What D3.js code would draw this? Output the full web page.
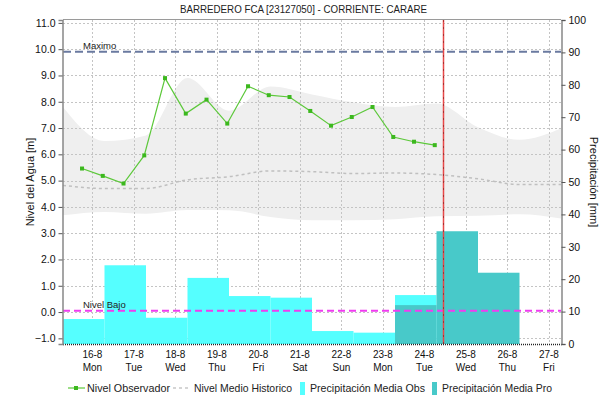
<!DOCTYPE html>
<html>
<head>
<meta charset="utf-8">
<script src="https://cdn.jsdelivr.net/npm/d3@7"></script>
<style>
  html, body { margin: 0; padding: 0; background: #fff; }
  svg { display: block; font-family: "Liberation Sans", Arial, sans-serif; }
</style>
</head>
<body>
<svg id="chart" width="603" height="412"></svg>
<script>
// ---- data -------------------------------------------------------------
const title = "BARREDERO FCA [23127050] - CORRIENTE: CARARE";

// observed water level, readings at 06:00 and 18:00 (day of August, hour, metres)
const levelDays  = [15, 16, 16, 17, 17, 18, 18, 19, 19, 20, 20, 21, 21, 22, 22, 23, 23, 24];
const levelHours = [18, 6, 18, 6, 18, 6, 18, 6, 18, 6, 18, 6, 18, 6, 18, 6, 18, 6];
const levelValues = [5.46, 5.18, 4.89, 5.96, 8.90, 7.55, 8.08, 7.17, 8.59, 8.25, 8.18, 7.65, 7.09, 7.42, 7.80, 6.66, 6.48, 6.35];

// historic band and mean, daily at 07:00
const histDays  = [15, 16, 17, 18, 19, 20, 21, 22, 23, 24, 25, 26, 27];
const histUpper = [7.80, 6.51, 6.72, 8.90, 7.66, 8.58, 8.28, 7.98, 7.80, 7.93, 7.03, 6.55, 6.98];
const histLower = [3.68, 3.81, 3.74, 3.88, 3.87, 3.62, 3.49, 3.49, 3.53, 3.64, 3.66, 3.72, 3.56];
const histMean  = [4.82, 4.70, 4.70, 5.03, 5.15, 5.37, 5.34, 5.27, 5.29, 5.23, 5.07, 4.85, 4.85];

// daily precipitation (07:00 to 07:00), mm
const obsDays   = [15, 16, 17, 18, 19, 20, 21, 22, 23];
const obsValues = [7.7, 24.3, 8.1, 20.4, 14.8, 14.3, 4.0, 3.5, 15.1];
const proDays   = [23, 24, 25];
const proValues = [12.0, 34.8, 22.0];

// reference levels (m)
const maxLevel = 9.9;
const lowLevel = 0.05;

// axis ticks
const leftTicks  = [-1, 0, 1, 2, 3, 4, 5, 6, 7, 8, 9, 10, 11];
const rightTicks = [0, 10, 20, 30, 40, 50, 60, 70, 80, 90, 100];
const dayTicks   = [16, 17, 18, 19, 20, 21, 22, 23, 24, 25, 26, 27];

const nowDay = 24, nowHour = 10.75;

// ---- layout -----------------------------------------------------------
const svg = d3.select("#chart");
const L = 63, R = 561, T = 20, B = 344;

const t = (day, hour) => new Date(2021, 7, day, hour || 0, ((hour || 0) % 1) * 60);

const x = d3.scaleTime().domain([t(15, 7), t(27, 7)]).range([L, R]);
const yL = d3.scaleLinear().domain([-1.215, 11.11]).range([B, T]);
const yR = d3.scaleLinear().domain([0, 100]).range([B, T]);

const clipId = "plotclip";
svg.append("clipPath").attr("id", clipId)
  .append("rect").attr("x", L).attr("y", T).attr("width", R - L).attr("height", B - T);

const plot = svg.append("g").attr("clip-path", `url(#${clipId})`);

// historic band
const hist = histDays.map((d, i) => ({ t: t(d, 7), lo: histLower[i], hi: histUpper[i], mean: histMean[i] }));
plot.append("path")
  .datum(hist)
  .attr("fill", "#efefef")
  .attr("d", d3.area().x(d => x(d.t)).y0(d => yL(d.lo)).y1(d => yL(d.hi)).curve(d3.curveMonotoneX));

// grid
const grid = plot.append("g").attr("stroke", "#c4c4c4").attr("stroke-dasharray", "2,2").attr("stroke-width", 1);
leftTicks.forEach(v => {
  grid.append("line").attr("x1", L).attr("x2", R)
    .attr("y1", Math.round(yL(v)) + 0.5).attr("y2", Math.round(yL(v)) + 0.5);
});
dayTicks.forEach(d => {
  const xx = Math.round(x(t(d, 0))) + 0.5;
  grid.append("line").attr("x1", xx).attr("x2", xx).attr("y1", T).attr("y2", B);
});

// precipitation bars
const bars = plot.append("g");
bars.selectAll("rect.obs").data(obsDays.map((d, i) => ({ d, v: obsValues[i] })))
  .join("rect").attr("class", "obs")
  .attr("x", p => x(t(p.d, 7)))
  .attr("width", p => x(t(p.d + 1, 7)) - x(t(p.d, 7)))
  .attr("y", p => yR(p.v))
  .attr("height", p => yR(0) - yR(p.v))
  .attr("fill", "#55ffff");
bars.selectAll("rect.pro").data(proDays.map((d, i) => ({ d, v: proValues[i] })))
  .join("rect").attr("class", "pro")
  .attr("x", p => x(t(p.d, 7)))
  .attr("width", p => x(t(p.d + 1, 7)) - x(t(p.d, 7)))
  .attr("y", p => yR(p.v))
  .attr("height", p => yR(0) - yR(p.v))
  .attr("fill", "#48c9c9");

// historic mean
plot.append("path")
  .datum(hist)
  .attr("fill", "none")
  .attr("stroke", "#c0c0c0")
  .attr("stroke-width", 1.5)
  .attr("stroke-dasharray", "3,3")
  .attr("d", d3.line().x(d => x(d.t)).y(d => yL(d.mean)).curve(d3.curveMonotoneX));

// reference levels
plot.append("line")
  .attr("x1", L).attr("x2", R)
  .attr("y1", yL(maxLevel)).attr("y2", yL(maxLevel))
  .attr("stroke", "#6a7aa0").attr("stroke-width", 2).attr("stroke-dasharray", "8,4");
plot.append("line")
  .attr("x1", L).attr("x2", R)
  .attr("y1", yL(lowLevel)).attr("y2", yL(lowLevel))
  .attr("stroke", "#f03cf0").attr("stroke-width", 2).attr("stroke-dasharray", "7,4");

svg.append("text").attr("x", 83).attr("y", yL(maxLevel) - 3)
  .attr("font-size", 9.5).attr("fill", "#222").text("Maximo");
svg.append("text").attr("x", 83).attr("y", yL(lowLevel) - 3)
  .attr("font-size", 9.5).attr("fill", "#222").text("Nivel Bajo");

// observed level
const level = levelDays.map((d, i) => ({ t: t(d, levelHours[i]), v: levelValues[i] }));
plot.append("path")
  .datum(level)
  .attr("fill", "none")
  .attr("stroke", "#5cc83a")
  .attr("stroke-width", 1.2)
  .attr("d", d3.line().x(d => x(d.t)).y(d => yL(d.v)));
plot.selectAll("rect.pt").data(level).join("rect").attr("class", "pt")
  .attr("x", d => x(d.t) - 2).attr("y", d => yL(d.v) - 2)
  .attr("width", 4).attr("height", 4)
  .attr("fill", "#3cb81e");

// current time marker
const nx = Math.round(x(t(nowDay, nowHour))) + 0.5;
svg.append("line").attr("x1", nx).attr("x2", nx).attr("y1", T).attr("y2", B)
  .attr("stroke", "#e84848").attr("stroke-width", 1.5);
svg.append("line").attr("x1", nx).attr("x2", nx).attr("y1", T).attr("y2", B)
  .attr("stroke", "#9a2a2a").attr("stroke-width", 0.8).attr("stroke-dasharray", "2,5");

// frame
svg.append("line").attr("x1", L).attr("x2", R).attr("y1", T - 0.5).attr("y2", T - 0.5)
  .attr("stroke", "#9a9a9a").attr("stroke-width", 1);
svg.append("line").attr("x1", L).attr("x2", R + 1).attr("y1", B + 0.5).attr("y2", B + 0.5)
  .attr("stroke", "#222").attr("stroke-width", 1.5).attr("stroke-dasharray", "1,1");

// left axis
const axL = svg.append("g").attr("transform", `translate(${L - 0.5},0)`)
  .call(d3.axisLeft(yL).tickValues(leftTicks).tickFormat(d3.format(".1f")).tickSize(4).tickPadding(3));
axL.select(".domain").attr("stroke", "#888").attr("stroke-width", 1.5);
axL.selectAll(".tick line").attr("stroke", "#555");
axL.selectAll("text").attr("font-size", 10.5).attr("fill", "#111")
  .attr("font-family", "'Liberation Sans', Arial, sans-serif");

// right axis
const axR = svg.append("g").attr("transform", `translate(${R + 0.5},0)`)
  .call(d3.axisRight(yR).tickValues(rightTicks).tickSize(4).tickPadding(3));
axR.select(".domain").attr("stroke", "#888").attr("stroke-width", 1.5);
axR.selectAll(".tick line").attr("stroke", "#555");
axR.selectAll("text").attr("font-size", 10.5).attr("fill", "#111")
  .attr("font-family", "'Liberation Sans', Arial, sans-serif");

// bottom axis labels: day-month and weekday
const wd = d3.timeFormat("%a");
const dayLab = svg.append("g");
dayTicks.forEach(d => {
  const xx = x(t(d, 0));
  dayLab.append("text").attr("x", xx).attr("y", 358).attr("text-anchor", "middle")
    .attr("font-size", 10).attr("fill", "#111").text(`${d}-8`);
  dayLab.append("text").attr("x", xx).attr("y", 371).attr("text-anchor", "middle")
    .attr("font-size", 10).attr("fill", "#111").text(wd(t(d, 0)));
});

// title and axis titles
svg.append("text").attr("x", 180).attr("y", 13)
  .attr("font-size", 11.5).attr("fill", "#222")
  .attr("textLength", 247).attr("lengthAdjust", "spacingAndGlyphs").text(title);
svg.append("text").attr("transform", `translate(34,${(T + B) / 2}) rotate(-90)`)
  .attr("text-anchor", "middle").attr("font-size", 11).attr("fill", "#111").text("Nivel del Agua [m]");
svg.append("text").attr("transform", `translate(590,${(T + B) / 2}) rotate(90)`)
  .attr("text-anchor", "middle").attr("font-size", 11).attr("fill", "#111").text("Precipitación [mm]");

// legend
const lg = svg.append("g").attr("font-size", 11.5).attr("fill", "#222");
const ly = 388;
const legendText = (xPos, w, s) => lg.append("text").attr("x", xPos).attr("y", ly + 4)
  .attr("textLength", w).attr("lengthAdjust", "spacingAndGlyphs").text(s);
lg.append("line").attr("x1", 68).attr("x2", 85).attr("y1", ly).attr("y2", ly)
  .attr("stroke", "#5cc83a").attr("stroke-width", 1.2);
lg.append("rect").attr("x", 74).attr("y", ly - 2).attr("width", 4).attr("height", 4).attr("fill", "#3cb81e");
legendText(87, 83, "Nivel Observador");
lg.append("line").attr("x1", 173).attr("x2", 189).attr("y1", ly).attr("y2", ly)
  .attr("stroke", "#c8c8c8").attr("stroke-width", 1.5).attr("stroke-dasharray", "3,3");
legendText(194, 98, "Nivel Medio Historico");
lg.append("rect").attr("x", 300).attr("y", ly - 6).attr("width", 5).attr("height", 13).attr("fill", "#55ffff");
legendText(310, 115, "Precipitación Media Obs");
lg.append("rect").attr("x", 432).attr("y", ly - 6).attr("width", 5).attr("height", 13).attr("fill", "#48c9c9");
legendText(442, 110, "Precipitación Media Pro");
</script>
</body>
</html>
